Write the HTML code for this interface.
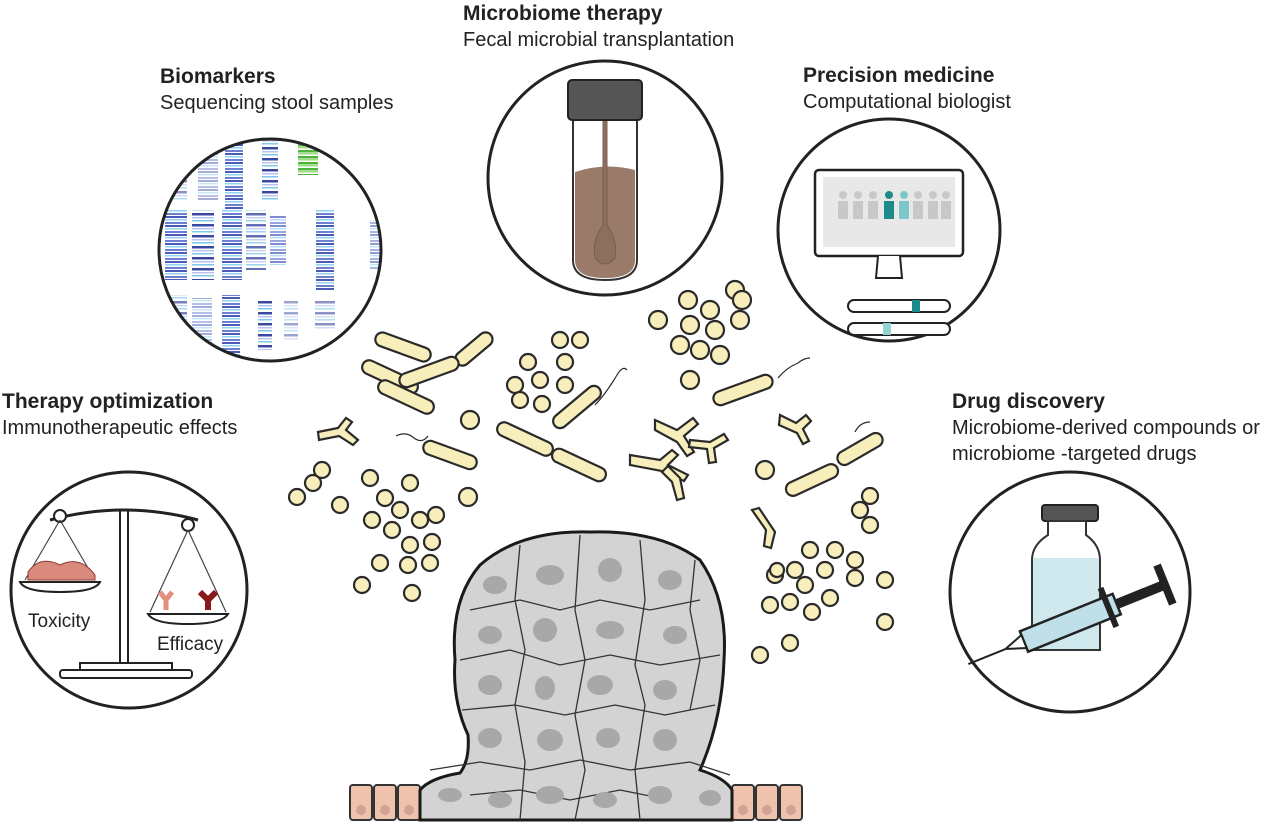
<!DOCTYPE html>
<html><head><meta charset="utf-8"><style>
html,body{margin:0;padding:0;background:#fff;}
svg{display:block;}
.t{font-family:"Liberation Sans",sans-serif;fill:#222;}
.b{font-weight:bold;font-size:21px;}
.s{font-size:20px;}
</style></head><body>
<svg width="1280" height="838" viewBox="0 0 1280 838" xmlns="http://www.w3.org/2000/svg">
<defs>
<clipPath id="c1"><circle cx="270" cy="250" r="110"/></clipPath>
<pattern id="st1" width="20" height="9" patternUnits="userSpaceOnUse">
<rect width="20" height="2" fill="#4a5ab8"/><rect y="3" width="20" height="1.5" fill="#8fd3ee"/><rect y="6" width="20" height="2" fill="#6f7fd0"/></pattern>
<pattern id="st2" width="20" height="11" patternUnits="userSpaceOnUse">
<rect width="20" height="1.5" fill="#7fc8ea"/><rect y="4" width="20" height="2.5" fill="#3b48a0"/><rect y="8" width="20" height="1.5" fill="#b9c4ee"/></pattern>
<pattern id="st3" width="20" height="6" patternUnits="userSpaceOnUse">
<rect width="20" height="2.5" fill="#4fb43c"/><rect y="3" width="20" height="1.5" fill="#9ede7c"/></pattern>
</defs>

<!-- Labels -->
<text class="t b" x="160" y="83">Biomarkers</text>
<text class="t s" x="160" y="109">Sequencing stool samples</text>
<text class="t b" x="463" y="20">Microbiome therapy</text>
<text class="t s" x="463" y="46">Fecal microbial transplantation</text>
<text class="t b" x="803" y="82">Precision medicine</text>
<text class="t s" x="803" y="108">Computational biologist</text>
<text class="t b" x="2" y="408">Therapy optimization</text>
<text class="t s" x="2" y="434">Immunotherapeutic effects</text>
<text class="t b" x="952" y="408">Drug discovery</text>
<text class="t s" x="952" y="434">Microbiome-derived compounds or</text>
<text class="t s" x="952" y="460">microbiome -targeted drugs</text>

<!-- Biomarkers circle -->
<g clip-path="url(#c1)">
<rect x="150" y="130" width="240" height="240" fill="#fff"/>
<rect x="165" y="140" width="22" height="60" fill="url(#st2)" opacity=".6"/>
<rect x="198" y="140" width="20" height="60" fill="url(#st1)" opacity=".5"/>
<rect x="225" y="140" width="18" height="70" fill="url(#st1)"/>
<rect x="262" y="140" width="16" height="60" fill="url(#st2)"/>
<rect x="298" y="130" width="20" height="45" fill="url(#st3)"/>
<rect x="165" y="210" width="22" height="70" fill="url(#st1)"/>
<rect x="192" y="210" width="22" height="70" fill="url(#st2)"/>
<rect x="222" y="210" width="20" height="70" fill="url(#st1)"/>
<rect x="246" y="210" width="20" height="60" fill="url(#st2)" opacity=".8"/>
<rect x="270" y="215" width="16" height="50" fill="url(#st1)" opacity=".7"/>
<rect x="316" y="210" width="18" height="80" fill="url(#st1)"/>
<rect x="370" y="220" width="20" height="50" fill="url(#st1)" opacity=".6"/>
<rect x="165" y="295" width="22" height="60" fill="url(#st2)" opacity=".7"/>
<rect x="192" y="298" width="20" height="60" fill="url(#st1)" opacity=".5"/>
<rect x="222" y="295" width="18" height="65" fill="url(#st1)"/>
<rect x="258" y="300" width="14" height="50" fill="url(#st2)"/>
<rect x="284" y="300" width="14" height="40" fill="url(#st2)" opacity=".5"/>
<rect x="315" y="300" width="20" height="30" fill="url(#st2)" opacity=".6"/>
</g>
<circle cx="270" cy="250" r="111" fill="none" stroke="#222" stroke-width="3"/>

<!-- Microbiome therapy circle -->
<circle cx="605" cy="178" r="117" fill="#fff" stroke="#222" stroke-width="3"/>
<path d="M573 118 L573 260 Q573 280 605 280 Q637 280 637 260 L637 118 Z" fill="#fff" stroke="#333" stroke-width="2"/>
<path d="M575 172 Q605 162 635 170 L635 260 Q635 278 605 278 Q575 278 575 260 Z" fill="#9a7a68"/>
<path d="M603 120 L603 225 Q592 240 595 258 Q605 270 615 258 Q618 240 607 225 L607 120 Z" fill="#8e6e5e" stroke="#7a5e50" stroke-width="1"/>
<rect x="568" y="80" width="74" height="40" rx="4" fill="#555" stroke="#222" stroke-width="2"/>

<!-- Precision medicine circle -->
<circle cx="889" cy="230" r="111" fill="#fff" stroke="#222" stroke-width="3"/>
<rect x="815" y="170" width="148" height="86" rx="4" fill="#fff" stroke="#222" stroke-width="2.5"/>
<rect x="823" y="177" width="132" height="70" fill="#e8e8e8"/>
<g fill="#c8c8c8">
<circle cx="843" cy="195" r="4"/><rect x="838" y="201" width="10" height="18"/>
<circle cx="858" cy="195" r="4"/><rect x="853" y="201" width="10" height="18"/>
<circle cx="873" cy="195" r="4"/><rect x="868" y="201" width="10" height="18"/>
<circle cx="918" cy="195" r="4"/><rect x="913" y="201" width="10" height="18"/>
<circle cx="933" cy="195" r="4"/><rect x="928" y="201" width="10" height="18"/>
<circle cx="946" cy="195" r="4"/><rect x="941" y="201" width="10" height="18"/>
</g>
<circle cx="889" cy="195" r="4" fill="#1f8a8a"/><rect x="884" y="201" width="10" height="18" fill="#1f8a8a"/>
<circle cx="904" cy="195" r="4" fill="#7cc8c8"/><rect x="899" y="201" width="10" height="18" fill="#7cc8c8"/>
<path d="M878 256 L876 278 L902 278 L900 256" fill="#fff" stroke="#222" stroke-width="2"/>
<rect x="848" y="300" width="102" height="12" rx="6" fill="#fff" stroke="#222" stroke-width="2"/>
<rect x="912" y="300" width="8" height="12" fill="#1f8a8a"/>
<rect x="848" y="323" width="102" height="12" rx="6" fill="#fff" stroke="#222" stroke-width="2"/>
<rect x="883" y="323" width="8" height="12" fill="#8fd3d3"/>

<!-- Therapy optimization circle -->
<circle cx="129" cy="590" r="118" fill="#fff" stroke="#222" stroke-width="3"/>
<rect x="120" y="510" width="8" height="155" fill="#fff" stroke="#222" stroke-width="2"/>
<path d="M50 520 Q124 500 198 520" fill="none" stroke="#222" stroke-width="3"/>
<circle cx="60" cy="516" r="6" fill="#fff" stroke="#222" stroke-width="2"/>
<circle cx="188" cy="525" r="6" fill="#fff" stroke="#222" stroke-width="2"/>
<path d="M60 520 L25 580 M60 520 L95 580 M188 530 L150 612 M188 530 L226 612" stroke="#444" stroke-width="1.2"/>
<path d="M28 572 Q40 555 60 565 Q80 555 95 575 L95 580 L28 580 Z" fill="#d98a7c" stroke="#8a3a30" stroke-width="1"/>
<path d="M20 582 L100 582 Q95 592 60 592 Q25 592 20 582 Z" fill="#fff" stroke="#222" stroke-width="2"/>
<path d="M160 592 l6 8 l6 -8 M166 600 v10" stroke="#e2907c" stroke-width="5" fill="none"/>
<path d="M200 592 l8 8 l8 -8 M208 600 v10" stroke="#8a1a1a" stroke-width="6" fill="none"/>
<path d="M148 614 L228 614 Q222 624 188 624 Q154 624 148 614 Z" fill="#fff" stroke="#222" stroke-width="2"/>
<text class="t" x="28" y="627" font-size="19">Toxicity</text>
<text class="t" x="157" y="650" font-size="19">Efficacy</text>
<rect x="80" y="663" width="92" height="7" fill="#fff" stroke="#222" stroke-width="2"/>
<rect x="60" y="670" width="132" height="8" rx="3" fill="#fff" stroke="#222" stroke-width="2"/>

<!-- Drug discovery circle -->
<circle cx="1070" cy="592" r="120" fill="#fff" stroke="#222" stroke-width="3"/>
<rect x="1042" y="505" width="56" height="16" rx="3" fill="#555" stroke="#222" stroke-width="2"/>
<path d="M1048 521 L1048 535 Q1032 545 1032 560 L1032 650 L1100 650 L1100 560 Q1100 545 1086 535 L1086 521 Z" fill="#fff" stroke="#333" stroke-width="2"/>
<path d="M1033 558 L1099 558 L1099 649 L1033 649 Z" fill="#cfe8ee"/>
<g transform="rotate(-22 1080 620)">
<rect x="1020" y="608" width="100" height="22" fill="#bfe0e8" stroke="#222" stroke-width="2.5"/>
<rect x="1120" y="614" width="50" height="10" fill="#222"/>
<rect x="1108" y="598" width="6" height="42" fill="#222"/>
<rect x="1168" y="598" width="8" height="42" fill="#222"/>
<path d="M1020 612 L1000 619 L1020 626 Z" fill="#fff" stroke="#222" stroke-width="2"/>
<line x1="1000" y1="619" x2="960" y2="619" stroke="#222" stroke-width="2"/>
</g>

<!-- Bacteria -->
<g fill="#f7eebc" stroke="#2a2a2a" stroke-width="2.2">
<rect x="374" y="340" width="58" height="14" rx="7" transform="rotate(20 403 347)"/>
<rect x="452" y="342" width="44" height="14" rx="7" transform="rotate(-40 474 349)"/>
<rect x="360" y="370" width="60" height="14" rx="7" transform="rotate(25 390 377)"/>
<rect x="398" y="365" width="62" height="14" rx="7" transform="rotate(-20 429 372)"/>
<rect x="376" y="390" width="60" height="14" rx="7" transform="rotate(25 406 397)"/>
<rect x="422" y="448" width="56" height="14" rx="7" transform="rotate(20 450 455)"/>
<rect x="495" y="432" width="60" height="14" rx="7" transform="rotate(25 525 439)"/>
<rect x="550" y="458" width="58" height="14" rx="7" transform="rotate(25 579 465)"/>
<rect x="548" y="400" width="58" height="14" rx="7" transform="rotate(-40 577 407)"/>
<rect x="712" y="383" width="62" height="14" rx="7" transform="rotate(-20 743 390)"/>
<rect x="784" y="473" width="56" height="14" rx="7" transform="rotate(-25 812 480)"/>
<rect x="835" y="442" width="50" height="14" rx="7" transform="rotate(-30 860 449)"/>
<circle cx="297" cy="497" r="8"/><circle cx="313" cy="483" r="8"/><circle cx="322" cy="470" r="8"/>
<circle cx="340" cy="505" r="8"/><circle cx="370" cy="478" r="8"/><circle cx="385" cy="498" r="8"/>
<circle cx="410" cy="483" r="8"/><circle cx="400" cy="510" r="8"/><circle cx="420" cy="520" r="8"/>
<circle cx="436" cy="515" r="8"/><circle cx="372" cy="520" r="8"/><circle cx="392" cy="530" r="8"/>
<circle cx="410" cy="545" r="8"/><circle cx="432" cy="542" r="8"/><circle cx="380" cy="563" r="8"/>
<circle cx="408" cy="565" r="8"/><circle cx="430" cy="563" r="8"/><circle cx="362" cy="585" r="8"/>
<circle cx="412" cy="593" r="8"/><circle cx="468" cy="497" r="9"/>
<circle cx="658" cy="320" r="9"/><circle cx="688" cy="300" r="9"/><circle cx="710" cy="310" r="9"/>
<circle cx="735" cy="290" r="9"/><circle cx="690" cy="325" r="9"/><circle cx="715" cy="330" r="9"/>
<circle cx="740" cy="320" r="9"/><circle cx="700" cy="350" r="9"/><circle cx="720" cy="355" r="9"/>
<circle cx="680" cy="345" r="9"/><circle cx="690" cy="380" r="9"/><circle cx="742" cy="300" r="9"/>
<circle cx="528" cy="362" r="8"/><circle cx="515" cy="385" r="8"/><circle cx="540" cy="380" r="8"/>
<circle cx="565" cy="362" r="8"/><circle cx="565" cy="385" r="8"/><circle cx="542" cy="404" r="8"/>
<circle cx="520" cy="400" r="8"/><circle cx="580" cy="340" r="8"/><circle cx="560" cy="340" r="8"/>
<circle cx="470" cy="420" r="9"/><circle cx="765" cy="470" r="9"/><circle cx="870" cy="496" r="8"/>
<circle cx="860" cy="510" r="8"/><circle cx="870" cy="525" r="8"/>
<circle cx="810" cy="550" r="8"/><circle cx="835" cy="550" r="8"/><circle cx="855" cy="560" r="8"/>
<circle cx="825" cy="570" r="8"/><circle cx="795" cy="570" r="8"/><circle cx="775" cy="575" r="8"/>
<circle cx="805" cy="585" r="8"/><circle cx="830" cy="598" r="8"/><circle cx="855" cy="578" r="8"/>
<circle cx="885" cy="580" r="8"/><circle cx="770" cy="605" r="8"/><circle cx="790" cy="602" r="8"/>
<circle cx="812" cy="612" r="8"/><circle cx="885" cy="622" r="8"/><circle cx="790" cy="643" r="8"/>
<circle cx="760" cy="655" r="8"/><circle cx="777" cy="570" r="7"/>
<path d="M318 432 l20 -4 l8 -10 l6 4 l-6 8 l12 10 l-5 5 l-14 -9 l-20 4 Z"/>
<path d="M655 420 l22 10 l16 -12 l5 6 l-14 12 l10 16 l-7 4 l-10 -14 l-22 -12 Z"/>
<path d="M630 455 l30 5 l12 -10 l6 5 l-10 10 l20 10 l-4 6 l-22 -10 l-32 -6 Z"/>
<path d="M668 466 l12 12 l4 20 l-7 2 l-5 -18 l-10 -10 Z"/>
<path d="M780 415 l16 8 l10 -8 l5 6 l-8 8 l6 12 l-6 3 l-6 -11 l-18 -8 Z"/>
<path d="M752 510 l14 20 l-2 16 l7 2 l4 -16 l-16 -24 Z"/>
<path d="M690 440 l20 2 l14 -8 l4 6 l-14 8 l2 14 l-7 1 l-2 -14 l-18 -2 Z"/>
</g>
<g fill="none" stroke="#2a2a2a" stroke-width="1.2">
<path d="M396 436 q10 -5 18 2 q8 6 14 -2"/><path d="M595 405 q10 -10 22 -30 q6 -10 10 -5"/>
<path d="M778 378 q8 -10 20 -15 q6 -5 12 -5"/><path d="M855 432 q5 -10 15 -10"/>
</g>

<!-- Pink epithelial cells -->
<g fill="#efc2ae" stroke="#333" stroke-width="2">
<rect x="350" y="785" width="22" height="35" rx="3"/><rect x="374" y="785" width="22" height="35" rx="3"/>
<rect x="398" y="785" width="22" height="35" rx="3"/>
<rect x="732" y="785" width="22" height="35" rx="3"/><rect x="756" y="785" width="22" height="35" rx="3"/>
<rect x="780" y="785" width="22" height="35" rx="3"/>
</g>
<g fill="#d4a294"><circle cx="361" cy="810" r="5"/><circle cx="385" cy="810" r="5"/><circle cx="409" cy="810" r="5"/><circle cx="743" cy="810" r="5"/><circle cx="767" cy="810" r="5"/><circle cx="791" cy="810" r="5"/></g>

<!-- Tumor -->
<path d="M420 790 Q430 778 460 773 Q470 760 468 735 Q452 700 455 660 Q450 600 480 565 Q520 530 590 532 Q660 530 700 560 Q728 600 724 660 Q722 720 700 770 Q725 778 732 790 L732 820 L420 820 Z" fill="#d3d3d3" stroke="#1a1a1a" stroke-width="3"/>
<g fill="none" stroke="#333" stroke-width="1.3">
<path d="M470 610 L520 600 L560 610 L600 600 L650 610 L700 600"/>
<path d="M460 660 L510 650 L560 665 L610 655 L660 665 L720 655"/>
<path d="M462 710 L515 705 L565 715 L615 705 L665 715 L715 705"/>
<path d="M430 770 L480 762 L530 770 L580 760 L630 770 L690 762 L730 775"/>
<path d="M470 795 L520 790 L570 800 L620 790 L670 800"/>
<path d="M520 545 L515 600 L525 650 L515 705 L525 762 L520 820"/>
<path d="M580 535 L575 610 L585 660 L575 715 L585 770 L575 820"/>
<path d="M640 540 L645 600 L635 665 L645 705 L635 770 L640 820"/>
<path d="M695 560 L690 610 L700 660 L690 710"/>
</g>
<g fill="#a8a8a8">
<ellipse cx="495" cy="585" rx="12" ry="9"/><ellipse cx="550" cy="575" rx="14" ry="10"/><ellipse cx="610" cy="570" rx="12" ry="12"/>
<ellipse cx="670" cy="580" rx="12" ry="10"/><ellipse cx="490" cy="635" rx="12" ry="9"/><ellipse cx="545" cy="630" rx="12" ry="12"/>
<ellipse cx="610" cy="630" rx="14" ry="9"/><ellipse cx="675" cy="635" rx="12" ry="9"/><ellipse cx="490" cy="685" rx="12" ry="10"/>
<ellipse cx="545" cy="688" rx="10" ry="12"/><ellipse cx="600" cy="685" rx="13" ry="10"/><ellipse cx="665" cy="690" rx="12" ry="10"/>
<ellipse cx="490" cy="738" rx="12" ry="10"/><ellipse cx="550" cy="740" rx="13" ry="11"/><ellipse cx="608" cy="738" rx="12" ry="10"/>
<ellipse cx="665" cy="740" rx="12" ry="11"/><ellipse cx="450" cy="795" rx="12" ry="7"/><ellipse cx="500" cy="800" rx="12" ry="8"/>
<ellipse cx="550" cy="795" rx="14" ry="9"/><ellipse cx="605" cy="800" rx="12" ry="8"/><ellipse cx="660" cy="795" rx="12" ry="9"/>
<ellipse cx="710" cy="798" rx="11" ry="8"/>
</g>
</svg>
</body></html>
